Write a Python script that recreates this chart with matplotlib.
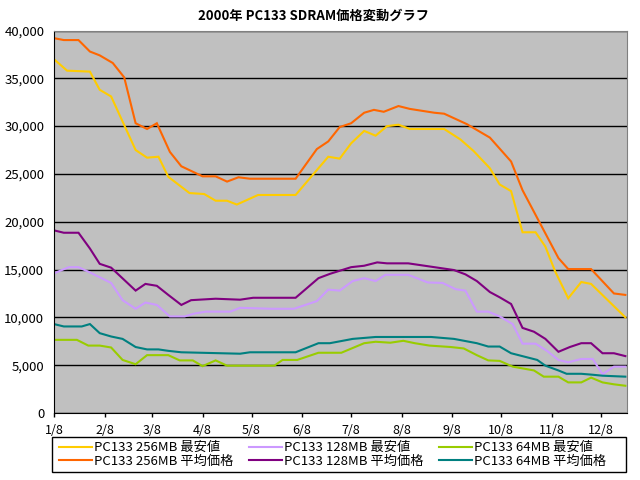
import numpy as np
import matplotlib; matplotlib.use("Agg"); import matplotlib.pyplot as plt
from matplotlib.ticker import StrMethodFormatter
from matplotlib.patches import Rectangle

plt.rcParams["font.family"] = ["Noto Sans CJK JP", "DejaVu Sans"]

BASE = np.datetime64("2000-01-08")
XMAX = 351  # days after 1/8 at right edge

# (days after 1/8, price in 1000 yen)
d256_min = [0, 8, 22, 28, 35, 50, 57, 64, 70, 83, 92, 99, 106, 112, 125, 148, 168, 175, 182, 190, 197,
            204, 211, 218, 239, 249, 257, 267, 273, 280, 287, 295, 301, 307, 315, 323, 329, 350]
v256_min = [37.0, 35.8, 35.7, 33.8, 33.1, 27.5, 26.7, 26.8, 24.7, 23.0, 22.9, 22.2, 22.2, 21.8, 22.8, 22.8,
            26.8, 26.6, 28.2, 29.5, 29.0, 30.0, 30.15, 29.7, 29.7, 28.6, 27.4, 25.6, 23.9, 23.2, 18.9, 18.9,
            17.4, 14.8, 12.0, 13.7, 13.5, 10.0]
d256_avg = [0, 6, 15, 22, 28, 36, 43, 50, 57, 63, 71, 78, 91, 99, 106, 113, 120, 148, 161, 168, 175, 182,
            190, 196, 202, 211, 218, 233, 239, 253, 267, 280, 287, 309, 315, 329, 343, 350]
v256_avg = [39.2, 39.0, 39.0, 37.8, 37.4, 36.6, 35.1, 30.3, 29.7, 30.3, 27.3, 25.8, 24.75, 24.75, 24.2,
            24.65, 24.5, 24.5, 27.6, 28.4, 29.9, 30.3, 31.4, 31.7, 31.5, 32.1, 31.8, 31.4, 31.3, 30.2, 28.8,
            26.3, 23.3, 16.2, 15.05, 15.05, 12.5, 12.35]
d128_min = [0, 9, 15, 22, 35, 42, 50, 56, 63, 71, 80, 86, 93, 108, 114, 133, 147, 161, 168, 175, 183, 190,
            197, 203, 217, 229, 238, 246, 252, 259, 266, 273, 281, 287, 295, 302, 309, 315, 323, 330, 336,
            343, 350]
v128_min = [14.6, 15.25, 15.25, 14.7, 13.6, 11.8, 10.9, 11.55, 11.3, 10.1, 10.1, 10.4, 10.6, 10.6, 11.0,
            10.9, 10.9, 11.7, 12.9, 12.8, 13.8, 14.1, 13.8, 14.45, 14.45, 13.65, 13.6, 12.95, 12.8, 10.6,
            10.6, 10.1, 9.3, 7.25, 7.25, 6.5, 5.55, 5.3, 5.65, 5.65, 4.05, 4.85, 4.85]
d128_avg = [0, 6, 15, 22, 28, 35, 50, 56, 63, 70, 78, 84, 99, 114, 122, 148, 162, 169, 182, 190, 198, 204,
            217, 233, 245, 252, 259, 267, 273, 280, 287, 294, 301, 309, 316, 323, 329, 336, 343, 350]
v128_avg = [19.1, 18.85, 18.85, 17.2, 15.6, 15.2, 12.8, 13.5, 13.3, 12.35, 11.3, 11.8, 11.95, 11.85, 12.05,
            12.05, 14.1, 14.55, 15.25, 15.4, 15.75, 15.65, 15.65, 15.25, 14.95, 14.5, 13.8, 12.65, 12.1, 11.4,
            8.9, 8.5, 7.75, 6.4, 6.9, 7.3, 7.3, 6.25, 6.25, 5.95]
d64_min = [0, 14, 21, 28, 35, 42, 50, 57, 70, 77, 85, 91, 99, 106, 135, 140, 149, 162, 176, 190, 197, 206,
           214, 221, 230, 243, 251, 259, 266, 273, 281, 294, 300, 309, 315, 323, 329, 336, 343, 350]
v64_min = [7.65, 7.65, 7.05, 7.05, 6.85, 5.55, 5.1, 6.05, 6.05, 5.5, 5.5, 4.9, 5.5, 4.95, 4.95, 5.55, 5.55,
           6.3, 6.3, 7.3, 7.45, 7.35, 7.55, 7.3, 7.05, 6.9, 6.75, 6.05, 5.5, 5.45, 4.85, 4.45, 3.8, 3.8,
           3.2, 3.2, 3.7, 3.2, 3.0, 2.85]
d64_avg = [0, 6, 17, 22, 28, 35, 42, 50, 57, 64, 70, 78, 102, 114, 120, 148, 162, 169, 183, 197, 231, 245,
           259, 266, 273, 280, 288, 296, 301, 309, 314, 323, 330, 336, 350]
v64_avg = [9.3, 9.05, 9.05, 9.3, 8.35, 8.0, 7.75, 6.9, 6.65, 6.65, 6.5, 6.35, 6.25, 6.2, 6.35, 6.35, 7.3,
           7.3, 7.75, 7.95, 7.95, 7.75, 7.3, 6.95, 6.95, 6.25, 5.9, 5.55, 4.95, 4.45, 4.1, 4.1, 4.0, 3.9, 3.8]

SERIES = [
    ("PC133 256MB 最安値", d256_min, v256_min, "#FFCC00"),
    ("PC133 256MB 平均価格", d256_avg, v256_avg, "#FF6600"),
    ("PC133 128MB 最安値", d128_min, v128_min, "#CC99FF"),
    ("PC133 128MB 平均価格", d128_avg, v128_avg, "#800080"),
    ("PC133 64MB 最安値", d64_min, v64_min, "#99CC00"),
    ("PC133 64MB 平均価格", d64_avg, v64_avg, "#008080"),
]
TICK_LABELS = ["1/8", "2/8", "3/8", "4/8", "5/8", "6/8", "7/8", "8/8", "9/8", "10/8", "11/8", "12/8"]
TICK_DATES = ["2000-%02d-08" % m for m in range(1, 13)]


def to_dates(days):
    return (BASE + np.array(days, dtype="timedelta64[D]")).astype("datetime64[ms]").astype(object)


fig = plt.figure(figsize=(6.4, 4.8), dpi=100)
ax = fig.add_axes([54 / 640, 1 - 413 / 480, 573 / 640, 382.5 / 480])
ax.set_facecolor("#C0C0C0")
for lab, d, v, c in SERIES:
    ax.plot(to_dates(d), np.array(v) * 1000, color=c, lw=1.5, label=lab, solid_joinstyle="miter")

ax.set_ylim(0, 40000)
ax.set_yticks(range(0, 40001, 5000))
ax.yaxis.set_major_formatter(StrMethodFormatter("{x:,.0f}"))
ax.set_xlim(to_dates([0])[0], to_dates([XMAX])[0])
ax.set_xticks([np.datetime64(t).astype("datetime64[ms]").astype(object) for t in TICK_DATES])
ax.set_xticklabels(TICK_LABELS)
ax.grid(axis="y", color="black", lw=1)
ax.set_axisbelow(True)
ax.tick_params(axis="x", length=3, width=1, direction="out", labelsize=9, pad=5)
ax.tick_params(axis="y", length=0, labelsize=9.5, pad=7)
for s in ("left", "bottom"):
    ax.spines[s].set_color("black")
for s in ("top", "right"):
    ax.spines[s].set_color("#808080")

fig.text(314 / 640, 1 - 16 / 480, "2000年 PC133 SDRAM価格変動グラフ", ha="center", va="center",
         fontsize=9.5, fontweight="bold")

# legend box drawn separately so the entries keep their natural spacing
fig.patches.append(Rectangle((52 / 640, 8 / 480), 574 / 640, 35 / 480, transform=fig.transFigure,
                             fill=False, edgecolor="black", lw=1))
fig.legend(loc="center left", bbox_to_anchor=(59 / 640, 25.5 / 480), ncol=3, fontsize=9.5, frameon=False,
           handlelength=2.5, handletextpad=0.15, labelspacing=0.05, columnspacing=1.2, borderpad=0,
           borderaxespad=0)

fig.savefig("out.png", dpi=100)
